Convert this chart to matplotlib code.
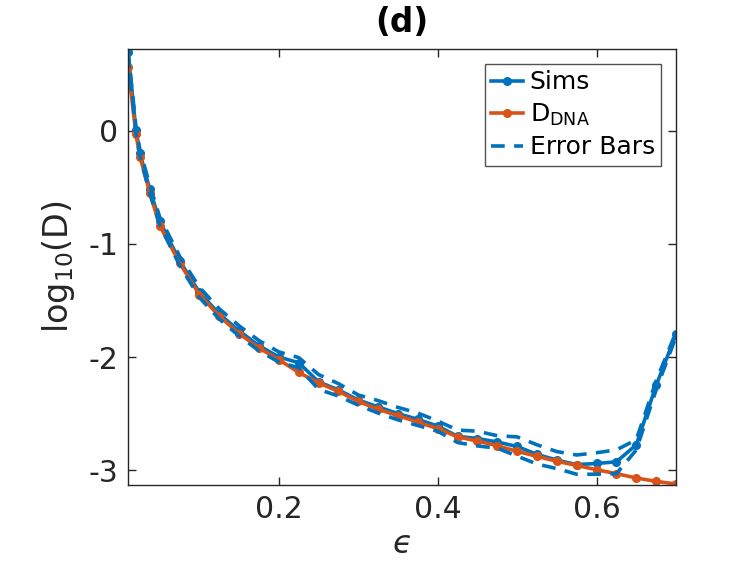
import matplotlib
matplotlib.use("Agg")
import matplotlib.pyplot as plt
import numpy as np

# ---- data ----
eps = [0.01, 0.02, 0.025, 0.0375, 0.05, 0.075, 0.1, 0.125, 0.15, 0.175, 0.2,
       0.225, 0.25, 0.275, 0.3, 0.325, 0.35, 0.375, 0.4, 0.425, 0.45, 0.475,
       0.5, 0.525, 0.55, 0.575, 0.6, 0.625, 0.65, 0.675, 0.7]
sims = [0.69, 0.006, -0.20, -0.52, -0.80, -1.15, -1.43, -1.62, -1.77, -1.90, -2.00,
        -2.05, -2.22, -2.29, -2.38, -2.44, -2.50, -2.55, -2.61, -2.70, -2.72, -2.75,
        -2.79, -2.86, -2.91, -2.95, -2.94, -2.925, -2.775, -2.25, -1.80]
err = [0.02, 0.03, 0.03, 0.035, 0.035, 0.04, 0.045, 0.045, 0.045, 0.045, 0.045,
       0.045, 0.065, 0.055, 0.045, 0.055, 0.055, 0.055, 0.045, 0.055, 0.065, 0.055,
       0.085, 0.085, 0.075, 0.085, 0.095, 0.105, 0.045, 0.04, 0.02]
ddna = [0.565, -0.03, -0.23, -0.55, -0.84, -1.17, -1.45, -1.64, -1.794, -1.921, -2.024,
        -2.136, -2.229, -2.304, -2.392, -2.462, -2.518, -2.574, -2.632, -2.705, -2.742, -2.783,
        -2.833, -2.877, -2.921, -2.957, -2.995, -3.03, -3.068, -3.098, -3.121]

x_ticks = [0.2, 0.4, 0.6]
y_ticks = [-3, -2, -1, 0]

blue = "#0072BD"
orange = "#D95319"
axcol = "#262626"

plt.rcParams["font.family"] = ["DejaVu Sans"]
plt.rcParams["axes.unicode_minus"] = False
plt.rcParams["mathtext.fontset"] = "dejavusans"

fig = plt.figure(figsize=(7.47, 5.72), dpi=100)
ax = fig.add_axes([128/747, 1-485/572, (676-128)/747, (485-49)/572])

s = np.array(sims)
e = np.array(err)
ax.plot(eps, sims, color=blue, lw=2.6, marker="o", ms=5.5, label="Sims")
ax.plot(eps, ddna, color=orange, lw=2.6, marker="o", ms=5.5, label=r"D$_{\rm DNA}$")
ax.plot(eps, s + e, color=blue, lw=2.6, ls=(0, (3.8, 2.6)), label="Error Bars")
ax.plot(eps, s - e, color=blue, lw=2.6, ls=(0, (3.8, 2.6)))

ax.set_xlim(0.01, 0.7)
ax.set_ylim(-3.13, 0.72)
ax.set_xticks(x_ticks)
ax.set_xticklabels(["0.2", "0.4", "0.6"])
ax.set_yticks(y_ticks)
ax.set_yticklabels(["-3", "-2", "-1", "0"])

ax.tick_params(direction="in", length=6, width=1, colors=axcol, labelsize=21.5,
               top=True, right=True, pad=7)
for sp in ax.spines.values():
    sp.set_color(axcol)
    sp.set_linewidth(1)

ax.set_xlabel("\u03f5", fontsize=23, color=axcol, labelpad=4, style="italic")
ax.set_ylabel(r"log$_{10}$(D)", fontsize=24, color=axcol, labelpad=8)
ax.set_title("(d)", fontsize=23.5, fontweight="bold", pad=12)

leg = ax.legend(loc="upper right", fontsize=18, frameon=True, fancybox=False,
                edgecolor=axcol, handlelength=1.3, handletextpad=0.25,
                borderaxespad=0.6, labelspacing=0.3, borderpad=0.25)
leg.get_frame().set_linewidth(1)

fig.savefig("out.png", dpi=100)
